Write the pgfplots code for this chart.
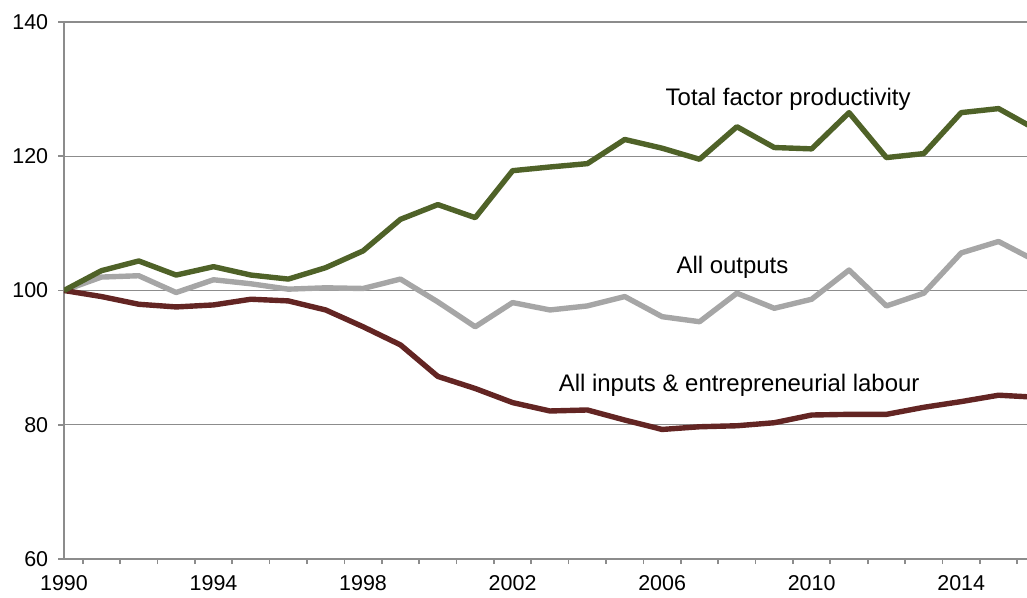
\documentclass[border=0pt]{standalone}
\usepackage{fontspec}
\setmainfont{Liberation Sans}
\usepackage{pgfplots}
\pgfplotsset{compat=1.18}

\definecolor{tfpgreen}{HTML}{4F6228}
\definecolor{outgray}{HTML}{A6A6A6}
\definecolor{inred}{HTML}{632523}
\definecolor{axgray}{HTML}{8C8C8C}

\begin{document}
\begin{tikzpicture}
\begin{axis}[
  scale only axis,
  width=9.63in,
  height=5.37in,
  xmin=1990, xmax=2015.76,
  ymin=60, ymax=140,
  ytick={60,80,...,140},
  xtick={1990,1994,...,2014},
  minor xtick={1990.5,1991.5,...,2015.5},
  major x tick style={draw=none},
  minor x tick style={draw=axgray, line width=1.2pt},
  minor tick length=0.05in,
  ymajorgrids,
  grid style={draw=axgray, line width=1pt},
  axis x line*=bottom,
  axis y line*=left,
  axis line style={draw=axgray, line width=1.4pt, -},
  tick align=outside,
  y tick style={draw=axgray, line width=1.2pt},
  major tick length=0.06in,
  tick label style={font=\fontsize{15.5pt}{17pt}\selectfont},
  xticklabel style={yshift=-0.06in},
  yticklabel style={xshift=-0.05in},
  /pgf/number format/assume math mode=true,
  x tick label style={/pgf/number format/1000 sep={}},
  clip=true,
]
\addplot[outgray, line width=3.9pt, line join=round] coordinates {
  (1990,100) (1991,102.0) (1992,102.2) (1993,99.7) (1994,101.6) (1995,101.0)
  (1996,100.2) (1997,100.4) (1998,100.3) (1999,101.7) (2000,98.3) (2001,94.6)
  (2002,98.2) (2003,97.1) (2004,97.7) (2005,99.1) (2006,96.1) (2007,95.35)
  (2008,99.6) (2009,97.35) (2010,98.7) (2011,103.05) (2012,97.7) (2013,99.6)
  (2014,105.6) (2015,107.3) (2016,104.4)
};
\addplot[inred, line width=3.9pt, line join=round] coordinates {
  (1990,100) (1991,99.1) (1992,97.95) (1993,97.55) (1994,97.85) (1995,98.7)
  (1996,98.45) (1997,97.1) (1998,94.6) (1999,91.9) (2000,87.2) (2001,85.4)
  (2002,83.3) (2003,82.05) (2004,82.2) (2005,80.7) (2006,79.3) (2007,79.7)
  (2008,79.85) (2009,80.3) (2010,81.45) (2011,81.55) (2012,81.55) (2013,82.6)
  (2014,83.45) (2015,84.4) (2016,84.1)
};
\addplot[tfpgreen, line width=3.9pt, line join=round] coordinates {
  (1990,100) (1991,102.95) (1992,104.4) (1993,102.3) (1994,103.55) (1995,102.3)
  (1996,101.7) (1997,103.4) (1998,105.9) (1999,110.6) (2000,112.8) (2001,110.85)
  (2002,117.85) (2003,118.4) (2004,118.9) (2005,122.5) (2006,121.2) (2007,119.55)
  (2008,124.4) (2009,121.3) (2010,121.1) (2011,126.5) (2012,119.8) (2013,120.4)
  (2014,126.5) (2015,127.1) (2016,124.0)
};
\node[anchor=base, font=\fontsize{17.3pt}{20pt}\selectfont] at (axis cs:2009.37,127.63) {Total factor productivity};
\node[anchor=base, font=\fontsize{17.3pt}{20pt}\selectfont] at (axis cs:2007.88,102.56) {All outputs};
\node[anchor=base, font=\fontsize{17.3pt}{20pt}\selectfont] at (axis cs:2008.06,84.92) {All inputs \& entrepreneurial labour};
\end{axis}
\pgfresetboundingbox
\path[use as bounding box] ([shift={(-0.64in,-0.38in)}]current axis.south west) rectangle ([shift={(0in,0.22in)}]current axis.north east);
\end{tikzpicture}
\end{document}
